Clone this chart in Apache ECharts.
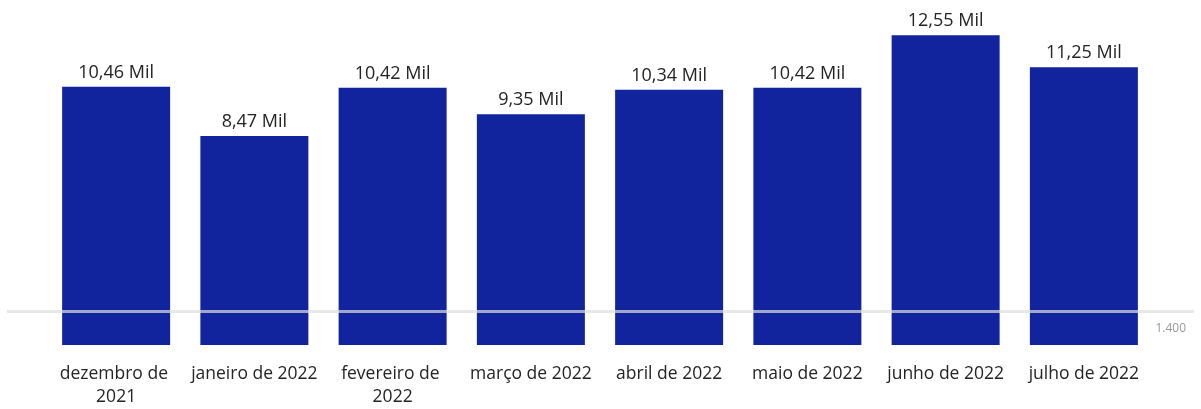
<!DOCTYPE html>
<html><head><meta charset="utf-8">
<script src="https://cdn.jsdelivr.net/npm/echarts@6/dist/echarts.min.js"></script>
<style>html,body{margin:0;padding:0;background:#fff}#c{width:1201px;height:409px}</style>
</head><body><div id="c"></div>
<script>
const categories = ["dezembro de 2021","janeiro de 2022","fevereiro de 2022","março de 2022","abril de 2022","maio de 2022","junho de 2022","julho de 2022"];
const values = [10460, 8470, 10420, 9350, 10340, 10420, 12550, 11250];
const refValue = 1400;
const yMax = 13570;

function fmtMil(v){ return (v/1000).toFixed(2).replace('.', ',') + ' Mil'; }

const chart = echarts.init(document.getElementById('c'));
chart.setOption({
  animation:false,
  textStyle:{fontFamily:'Open Sans, Noto Sans, sans-serif'},
  grid:[
    {left:47,right:48,top:10,bottom:63},
    {left:7,right:7,top:10,bottom:63}
  ],
  xAxis:[
    {type:'category',data:categories,gridIndex:0,axisLine:{show:false},axisTick:{show:false},
     axisLabel:{interval:0,color:'#252423',fontSize:17.5,margin:18,width:136,overflow:'break',lineHeight:23}},
    {type:'value',gridIndex:1,show:false,min:0,max:1}
  ],
  yAxis:[
    {type:'value',gridIndex:0,min:0,max:yMax,show:false},
    {type:'value',gridIndex:1,min:0,max:yMax,show:false}
  ],
  series:[
    {type:'bar',data:values,barWidth:108,xAxisIndex:0,yAxisIndex:0,z:2,
     itemStyle:{color:'#12239E'},
     label:{show:true,position:'top',distance:5,color:'#252423',fontSize:18,formatter:p=>fmtMil(p.value)}},
    {type:'line',data:[],xAxisIndex:1,yAxisIndex:1,z:5,
     markLine:{silent:true,symbol:'none',
       lineStyle:{color:'rgba(222,222,222,0.7)',type:'solid',width:3},
       label:{show:true,position:'insideEndBottom',formatter:'1.400',color:'#999',fontSize:12,distance:[8,11]},
       data:[{yAxis:refValue}]}}
  ]
});
</script></body></html>
